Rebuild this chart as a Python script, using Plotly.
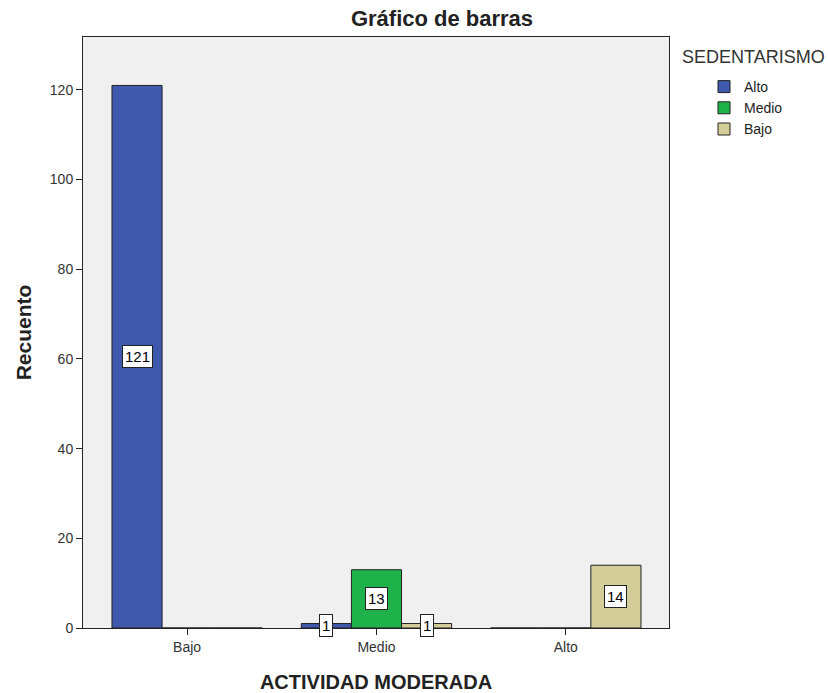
import plotly.graph_objects as go

categories = ["Bajo", "Medio", "Alto"]
series_names = ["Alto", "Medio", "Bajo"]
alto_vals = [121, 1, 0]
medio_vals = [0, 13, 0]
bajo_vals = [0, 1, 14]
colors = ["#3E58AC", "#1FB24A", "#D3CD99"]

series_vals = [alto_vals, medio_vals, bajo_vals]

FONT = "Liberation Sans, Arial, sans-serif"
bargap = 0.206
n = len(series_names)
bw = (1 - bargap) / n

fig = go.Figure()
for name, vals, col in zip(series_names, series_vals, colors):
    fig.add_trace(go.Bar(
        x=categories, y=vals, name=name,
        marker=dict(color=col, line=dict(color="#222222", width=1)),
    ))

plot_l, plot_r, plot_t, plot_b = 83, 669, 37, 628

annotations = []
for si, vals in enumerate(series_vals):
    off = (si - (n - 1) / 2) * bw
    for ci, v in enumerate(vals):
        if v > 0:
            annotations.append(dict(
                x=ci + off, y=v / 2, xref="x", yref="y",
                text=str(v), showarrow=False,
                font=dict(family=FONT, size=15, color="black"),
                bgcolor="white", bordercolor="#222222", borderwidth=1, borderpad=2,
            ))

annotations.append(dict(
    text="SEDENTARISMO",
    x=(680 - plot_l) / (plot_r - plot_l), xref="paper",
    y=(plot_b - 57) / (plot_b - plot_t), yref="paper",
    showarrow=False, xanchor="left", yanchor="middle",
    font=dict(family=FONT, size=18, color="#333333"),
))

fig.update_layout(
    width=828, height=693,
    margin=dict(l=plot_l, r=828 - plot_r, t=plot_t, b=693 - plot_b),
    paper_bgcolor="white", plot_bgcolor="#F0F0F0",
    barmode="group", bargap=bargap, bargroupgap=0,
    font=dict(family=FONT, size=14, color="#222222"),
    title=dict(text="<b>Gráfico de barras</b>", x=442/828, xanchor="center",
               y=1 - 18/693, yanchor="middle", font=dict(size=22, color="#222222")),
    showlegend=True,
    legend=dict(
        x=(704 - plot_l) / (plot_r - plot_l), xanchor="left",
        y=(plot_b - 71) / (plot_b - plot_t), yanchor="top",
        font=dict(size=14, color="#222222"),
        bgcolor="rgba(0,0,0,0)", itemwidth=30, tracegroupgap=0,
    ),
    annotations=annotations,
)
fig.update_xaxes(
    title=dict(text="<b>ACTIVIDAD MODERADA</b>", font=dict(size=20, color="#222222"), standoff=22),
    automargin=False,
    range=[-0.55, 2.545], showline=True, linecolor="#222222", linewidth=1, mirror=True,
    ticks="outside", ticklen=6, tickcolor="#222222", showgrid=False, zeroline=False,
    tickfont=dict(size=14, color="#333333"),
)
fig.update_yaxes(
    title=dict(text="<b>Recuento</b>", font=dict(size=21, color="#222222"), standoff=12),
    automargin=False,
    range=[0, 131.8], tickvals=[0, 20, 40, 60, 80, 100, 120],
    showline=True, linecolor="#222222", linewidth=1, mirror=True,
    ticks="outside", ticklen=6, tickcolor="#222222", showgrid=False, zeroline=False,
    tickfont=dict(size=14, color="#333333"),
)

fig.write_html("out.html")
